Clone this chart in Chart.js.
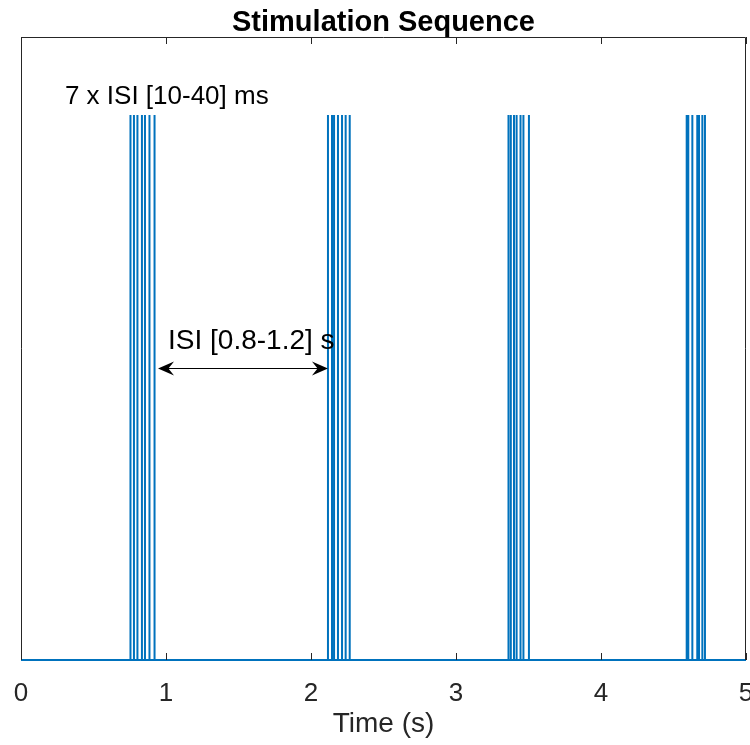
<!DOCTYPE html>
<html>
<head>
<meta charset="utf-8">
<script src="https://cdn.jsdelivr.net/npm/chart.js@4"></script>
<style>
  html, body { margin: 0; padding: 0; background: #fff; }
  #wrap { width: 750px; height: 745px; }
</style>
</head>
<body>
<div id="wrap"><canvas id="stimChart" width="750" height="745"></canvas></div>
<script>
// pulse onset times (s), one array per burst of 7 pulses
const burst1 = [0.755, 0.779, 0.803, 0.834, 0.855, 0.886, 0.921];
const burst2 = [2.117, 2.145, 2.159, 2.186, 2.214, 2.239, 2.267];
const burst3 = [3.362, 3.378, 3.400, 3.418, 3.445, 3.465, 3.503];
const burst4 = [4.591, 4.602, 4.630, 4.664, 4.676, 4.699, 4.717];
const pulseHeight = 1;
const xTicks = [0, 1, 2, 3, 4, 5];
const xMin = 0, xMax = 5;
const yMax = 1.143;

// build the trace: baseline at 0 with a vertical spike at every onset
const pulseTimes = [].concat(burst1, burst2, burst3, burst4);
const trace = [{ x: xMin, y: 0 }];
pulseTimes.forEach(t => {
  trace.push({ x: t, y: 0 }, { x: t, y: pulseHeight }, { x: t, y: 0 });
});
trace.push({ x: xMax, y: 0 });

const FONT = '"Liberation Sans", Arial, Helvetica, sans-serif';
const AXIS_COLOR = '#262626';

// annotations in data units
const notes = [
  { text: '7 x ISI [10-40] ms', x: 0.303, y: 1.033, size: 26 },
  { text: 'ISI [0.8-1.2] s', x: 1.014, y: 0.585, size: 28 }
];
const arrow = { x0: 0.945, x1: 2.117, y: 0.536 };

const boxPlugin = {
  id: 'boxPlugin',
  afterDatasetsDraw(chart) {
    const { ctx, chartArea: a, scales: { x, y } } = chart;
    ctx.save();
    // axes box
    ctx.strokeStyle = AXIS_COLOR;
    ctx.lineWidth = 1;
    ctx.beginPath();
    ctx.moveTo(a.left + 0.5, a.bottom);
    ctx.lineTo(a.left + 0.5, a.top + 0.5);
    ctx.lineTo(a.right - 0.5, a.top + 0.5);
    ctx.lineTo(a.right - 0.5, a.bottom);
    ctx.stroke();
    // inward ticks on top and bottom
    xTicks.forEach(v => {
      const px = Math.round(x.getPixelForValue(v)) + 0.5;
      ctx.beginPath();
      ctx.moveTo(px, a.top);
      ctx.lineTo(px, a.top + 7);
      ctx.moveTo(px, a.bottom);
      ctx.lineTo(px, a.bottom - 7);
      ctx.stroke();
    });
    // text notes
    ctx.fillStyle = '#000';
    ctx.textBaseline = 'middle';
    ctx.textAlign = 'left';
    notes.forEach(n => {
      ctx.font = n.size + 'px ' + FONT;
      ctx.fillText(n.text, x.getPixelForValue(n.x), y.getPixelForValue(n.y));
    });
    // double arrow
    const ax0 = x.getPixelForValue(arrow.x0);
    const ax1 = x.getPixelForValue(arrow.x1);
    const ay = Math.round(y.getPixelForValue(arrow.y)) + 0.5;
    ctx.strokeStyle = '#000';
    ctx.beginPath();
    ctx.moveTo(ax0 + 8, ay);
    ctx.lineTo(ax1 - 8, ay);
    ctx.stroke();
    const L = 16, W = 7;
    [[ax0, 1], [ax1, -1]].forEach(([tip, d]) => {
      ctx.beginPath();
      ctx.moveTo(tip, ay);
      ctx.lineTo(tip + d * L, ay - W);
      ctx.lineTo(tip + d * L * 0.65, ay);
      ctx.lineTo(tip + d * L, ay + W);
      ctx.closePath();
      ctx.fill();
    });
    ctx.restore();
  }
};

const ctx = document.getElementById('stimChart').getContext('2d');
const stimChart = new Chart(ctx, {
  type: 'line',
  data: {
    datasets: [{
      data: trace,
      borderColor: '#0072BD',
      borderWidth: 2,
      pointRadius: 0,
      tension: 0,
      clip: false
    }]
  },
  options: {
    responsive: false,
    animation: false,
    layout: { padding: { left: 21, right: 4, top: 0, bottom: 0 } },
    plugins: {
      legend: { display: false },
      tooltip: { enabled: false },
      title: {
        display: true,
        text: 'Stimulation Sequence',
        color: '#000',
        font: { family: FONT, size: 29, weight: 'bold', lineHeight: 1 },
        padding: { top: 8, bottom: 0 }
      }
    },
    scales: {
      x: {
        type: 'linear',
        min: xMin,
        max: xMax,
        grid: { display: false, drawTicks: false },
        border: { display: false },
        afterBuildTicks(scale) {
          scale.ticks = xTicks.map(v => ({ value: v }));
        },
        afterFit(scale) {
          scale.paddingLeft = 0;
          scale.paddingRight = 0;
          scale.height = 85;
        },
        ticks: {
          color: AXIS_COLOR,
          font: { family: FONT, size: 26 },
          padding: 18,
          maxRotation: 0
        },
        title: {
          display: true,
          text: 'Time (s)',
          color: AXIS_COLOR,
          font: { family: FONT, size: 28 },
          padding: { top: 0, bottom: 4 }
        }
      },
      y: {
        display: false,
        min: 0,
        max: yMax
      }
    }
  },
  plugins: [boxPlugin]
});
</script>
</body>
</html>
